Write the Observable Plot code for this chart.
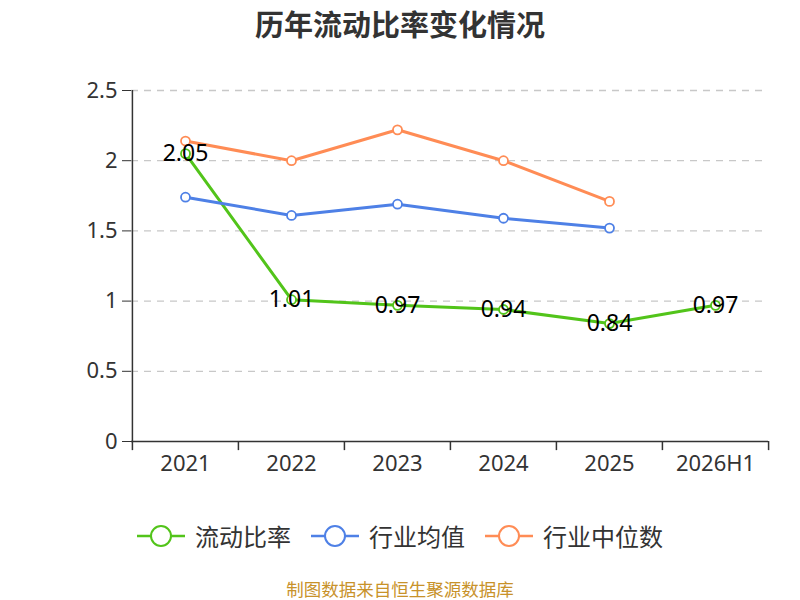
<!DOCTYPE html>
<html><head><meta charset="utf-8">
<script src="https://cdn.jsdelivr.net/npm/d3@7"></script>
<script src="https://cdn.jsdelivr.net/npm/@observablehq/plot@0.6"></script>
<style>
body{margin:0;background:#fff;font-family:"Noto Sans CJK SC","Noto Sans",sans-serif;}
#wrap{position:relative;width:800px;height:600px;overflow:hidden;}
#title{position:absolute;top:2px;left:0;width:800px;text-align:center;font-size:29px;font-weight:bold;color:#333;line-height:42px;}
#chart{position:absolute;top:50px;left:0;}
#legend{position:absolute;top:518px;left:0;width:800px;display:flex;justify-content:center;gap:20px;font-size:24px;color:#333;line-height:36px;}
.li{display:flex;align-items:center;gap:10px;}
#cap{position:absolute;top:576px;left:0;width:800px;text-align:center;font-size:17.5px;color:#c8922a;line-height:26px;}
</style></head>
<body><div id="wrap">
<div id="title">历年流动比率变化情况</div>
<div id="chart"></div>
<div id="legend"></div>
<div id="cap">制图数据来自恒生聚源数据库</div>
</div>
<script>
const categories = ["2021","2022","2023","2024","2025","2026H1"];
const currentRatio = [2.05,1.01,0.97,0.94,0.84,0.97];
const industryAvg = [1.74,1.61,1.69,1.59,1.52];
const industryMedian = [2.14,2.00,2.22,2.00,1.71];
const yTicks = [0,0.5,1,1.5,2,2.5];
const seriesNames = ["流动比率","行业均值","行业中位数"];
const colors = ["#52c41a","#4e80e6","#ff8c55"];

const W = 800, H = 450, mL = 131, mR = 32;
const bw = (W - mL - mR) / categories.length;

const rows = [];
currentRatio.forEach((v,i)=>rows.push({s:seriesNames[0],x:categories[i],y:v}));
industryAvg.forEach((v,i)=>rows.push({s:seriesNames[1],x:categories[i],y:v}));
industryMedian.forEach((v,i)=>rows.push({s:seriesNames[2],x:categories[i],y:v}));
const cr = rows.filter(d=>d.s===seriesNames[0]);

const plot = Plot.plot({
  width: W, height: H,
  marginLeft: mL, marginRight: mR, marginTop: 40, marginBottom: 59,
  style:{fontFamily:"'Noto Sans','Noto Sans CJK SC',sans-serif", background:"transparent"},
  x:{type:"band", domain:categories, padding:0, label:null},
  y:{domain:[0,2.5], label:null},
  color:{domain:seriesNames, range:colors},
  marks:[
    Plot.ruleY(yTicks.filter(t=>t>0), {y:d=>d, stroke:"#c8c8c8", strokeWidth:1.3, strokeDasharray:"7,6"}),
    Plot.axisY({ticks:yTicks, tickSize:9, tickPadding:5, fontSize:22, color:"#333", stroke:"#333", tickFormat:d=>String(d)}),
    Plot.axisX({tickSize:0, tickPadding:14, fontSize:22, color:"#333"}),
    Plot.ruleY([0], {stroke:"#333", strokeWidth:1.5}),
    Plot.ruleX([categories[0]], {x:d=>d, y1:0, y2:2.5, dx:-bw/2, stroke:"#333", strokeWidth:1.5}),
    Plot.ruleX(categories, {x:d=>d, y1:0, y2:-0.065, dx:-bw/2, stroke:"#333", strokeWidth:1.5}),
    Plot.ruleX([categories[categories.length-1]], {x:d=>d, y1:0, y2:-0.065, dx:bw/2, stroke:"#333", strokeWidth:1.5}),
    Plot.line(rows, {x:"x", y:"y", z:"s", stroke:"s", strokeWidth:3}),
    Plot.dot(rows, {x:"x", y:"y", stroke:"s", fill:"white", r:4.5, strokeWidth:1.8}),
    Plot.text(cr, {x:"x", y:"y", text:d=>d.y.toFixed(2), fontSize:23, fill:"#000"})
  ]
});
document.getElementById("chart").appendChild(plot);
const leg = document.getElementById("legend");
seriesNames.forEach((n,i)=>{
  const d = document.createElement("div"); d.className="li";
  d.innerHTML = `<svg width="48" height="26"><line x1="0" y1="13" x2="48" y2="13" stroke="${colors[i]}" stroke-width="2.5"/><circle cx="24" cy="13" r="10" fill="white" stroke="${colors[i]}" stroke-width="2"/></svg><span>${n}</span>`;
  leg.appendChild(d);
});
</script>
</body></html>
